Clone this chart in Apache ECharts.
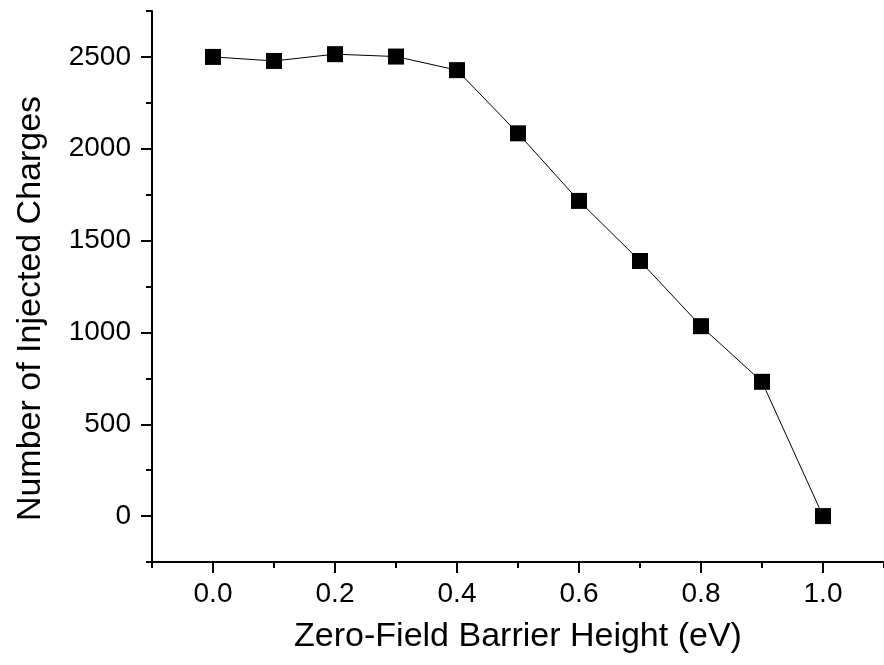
<!DOCTYPE html>
<html>
<head>
<meta charset="utf-8">
<script src="https://cdn.jsdelivr.net/npm/echarts@6/dist/echarts.min.js"></script>
<style>html,body{margin:0;padding:0;background:#fff;}#c{width:884px;height:665px;}</style>
</head>
<body>
<div id="c"></div>
<script>
var barrierHeights = [0.0, 0.1, 0.2, 0.3, 0.4, 0.5, 0.6, 0.7, 0.8, 0.9, 1.0];
var injectedCharges = [2500, 2478, 2515, 2502, 2428, 2084, 1716, 1389, 1034, 731, 0];
var xMajorTicks = [0.0, 0.2, 0.4, 0.6, 0.8, 1.0];
var xMinorTicks = [-0.1, 0.1, 0.3, 0.5, 0.7, 0.9, 1.1];
var yMajorTicks = [0, 500, 1000, 1500, 2000, 2500];
var yMinorTicks = [-250, 250, 750, 1250, 1750, 2250, 2750];

var FONT = 'Liberation Sans, Arial, sans-serif';
var chart = echarts.init(document.getElementById('c'), null, {renderer: 'canvas'});
var points = barrierHeights.map(function (x, i) { return [x, injectedCharges[i]]; });

function xAxisBase(extra) {
  return Object.assign({
    type: 'value', min: -0.1, max: 1.1, position: 'bottom',
    splitLine: {show: false}
  }, extra);
}
function yAxisBase(extra) {
  return Object.assign({
    type: 'value', min: -250, max: 2750, position: 'left',
    splitLine: {show: false}
  }, extra);
}

chart.setOption({
  backgroundColor: '#fff',
  animation: false,
  grid: {left: 152, right: 0, top: 11, bottom: 103, containLabel: false},
  xAxis: [
    xAxisBase({
      name: 'Zero-Field Barrier Height (eV)',
      nameLocation: 'middle', nameGap: 58,
      nameTextStyle: {fontFamily: FONT, fontSize: 34, color: '#000'},
      axisLine: {show: true, onZero: false, lineStyle: {color: '#000', width: 2}},
      axisTick: {show: true, length: 11, lineStyle: {color: '#000', width: 2}, customValues: xMajorTicks},
      axisLabel: {show: true, customValues: xMajorTicks, margin: 18, fontFamily: FONT, fontSize: 28, color: '#000',
        formatter: function (v) { return v.toFixed(1); }}
    }),
    xAxisBase({
      axisLine: {show: false, onZero: false},
      axisTick: {show: true, length: 6, lineStyle: {color: '#000', width: 2}, customValues: xMinorTicks},
      axisLabel: {show: false}
    })
  ],
  yAxis: [
    yAxisBase({
      name: 'Number of Injected Charges',
      nameLocation: 'middle', nameGap: 104,
      nameTextStyle: {fontFamily: FONT, fontSize: 34, color: '#000', padding: [0, 44, 0, 0]},
      axisLine: {show: true, onZero: false, lineStyle: {color: '#000', width: 2}},
      axisTick: {show: true, length: 11, lineStyle: {color: '#000', width: 2}, customValues: yMajorTicks},
      axisLabel: {show: true, customValues: yMajorTicks, margin: 21, fontFamily: FONT, fontSize: 28, color: '#000',
        formatter: function (v) { return String(v); }}
    }),
    yAxisBase({
      axisLine: {show: false, onZero: false},
      axisTick: {show: true, length: 6, lineStyle: {color: '#000', width: 2}, customValues: yMinorTicks},
      axisLabel: {show: false}
    })
  ],
  series: [{
    type: 'line',
    xAxisIndex: 0, yAxisIndex: 0,
    data: points,
    symbol: 'rect', symbolSize: 16,
    itemStyle: {color: '#000'},
    lineStyle: {color: '#000', width: 1},
    clip: false
  }]
});
</script>
</body>
</html>
